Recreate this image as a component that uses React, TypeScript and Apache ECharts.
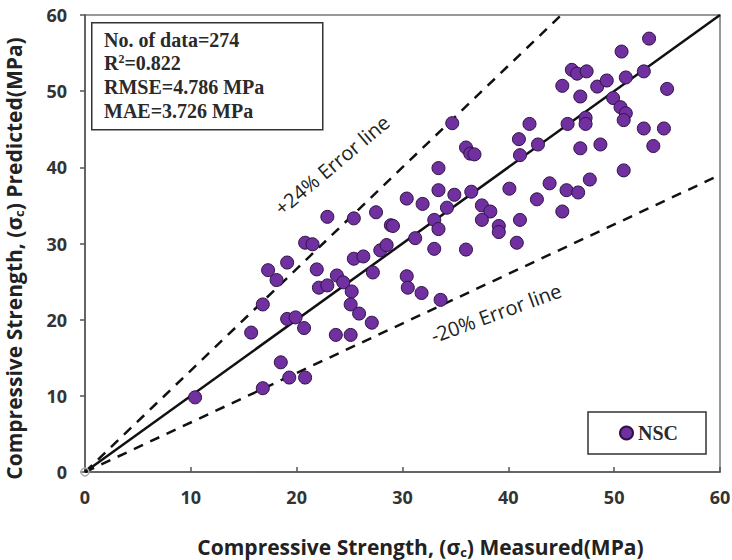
import React, { useEffect, useRef } from 'react';
import * as echarts from 'echarts';

const measured = [
  10.4, 16.8, 19.3, 20.8, 18.5, 15.7, 20.7, 19.1, 19.9, 16.8,
  18.1, 17.3, 19.1, 20.8, 21.5, 21.9, 22.1, 22.9, 23.8, 24.4,
  25.2, 25.1, 25.9, 23.7, 25.1, 27.1, 27.2, 25.4, 26.3, 27.9,
  28.5, 22.9, 25.4, 27.5, 28.9, 29.1, 30.4, 31.9, 34.2, 33.0,
  33.4, 31.2, 33.0, 36.0, 30.4, 30.5, 31.8, 33.6, 33.4, 33.4,
  34.9, 36.5, 34.7, 36.0, 36.4, 36.8, 37.5, 38.3, 37.5, 39.1,
  39.1, 41.1, 40.8, 40.1, 42.7, 41.0, 41.1, 42.8, 42.0, 43.9,
  45.1, 45.5, 46.6, 47.7, 45.6, 47.3, 47.3, 46.8, 48.7, 45.1,
  46.0, 46.5, 47.4, 46.8, 48.4, 49.3, 49.9, 50.6, 51.1, 50.9,
  50.9, 50.7, 51.1, 52.8, 53.3, 55.0, 52.8, 54.7, 53.7,
];
const predicted = [
  9.8, 11.0, 12.4, 12.4, 14.4, 18.3, 18.9, 20.1, 20.3, 22.0,
  25.2, 26.5, 27.5, 30.1, 29.9, 26.6, 24.2, 24.5, 25.8, 24.9,
  23.7, 22.0, 20.8, 18.0, 18.0, 19.6, 26.2, 28.0, 28.3, 29.1,
  29.8, 33.5, 33.3, 34.1, 32.4, 32.3, 35.9, 35.2, 34.7, 33.1,
  31.9, 30.7, 29.3, 29.2, 25.7, 24.2, 23.5, 22.6, 39.9, 37.0,
  36.4, 36.8, 45.8, 42.6, 41.8, 41.7, 35.0, 34.2, 33.1, 32.3,
  31.5, 33.1, 30.1, 37.2, 35.8, 43.7, 41.6, 43.0, 45.7, 37.9,
  34.2, 37.0, 36.7, 38.4, 45.7, 46.5, 45.7, 42.5, 43.0, 50.7,
  52.8, 52.3, 52.6, 49.3, 50.6, 51.4, 49.1, 47.9, 47.1, 46.2,
  39.6, 55.2, 51.8, 52.6, 56.9, 50.3, 45.1, 45.1, 42.8,
];
const perfectLine = [[0, 0], [60, 60]];
const upperErrorLine = [[0, 0], [45, 60]];
const lowerErrorLine = [[0, 0], [60, 39]];
const originPoint = [[0, 0]];
const statsLines = ['No. of data=274', 'R2=0.822', 'RMSE=4.786 MPa', 'MAE=3.726 MPa'];

const SANS = '"Open Sans", sans-serif';
const SERIF = '"Liberation Serif", "Times New Roman", serif';

export default function App() {
  const ref = useRef<HTMLDivElement>(null);
  useEffect(() => {
    const chart = echarts.init(ref.current!, null, { renderer: 'svg' });
    const scatterData = measured.map((m, i) => [m, predicted[i]]);
    const lineY = [40, 63.5, 87, 110.5];
    const statTexts = statsLines.map((t, i) => {
      if (t.startsWith('R2')) {
        return {
          type: 'text',
          left: 104,
          top: lineY[i] - 11,
          style: {
            text: '{b|R}{s|2}{b|' + t.slice(2) + '}',
            rich: {
              b: { fontFamily: SERIF, fontWeight: 'bold', fontSize: 20, fill: '#2a2a2a', lineHeight: 22 },
              s: { fontFamily: SERIF, fontWeight: 'bold', fontSize: 12, fill: '#2a2a2a', lineHeight: 22, padding: [0, 0, 9, 0] },
            },
          },
        };
      }
      return {
        type: 'text',
        left: 104,
        top: lineY[i] - 11,
        style: { text: t, fontFamily: SERIF, fontWeight: 'bold', fontSize: 20, fill: '#2a2a2a', lineHeight: 22 },
      };
    });
    const nameRich = {
      a: { fontFamily: SANS, fontWeight: 'bold', fontSize: 21, color: '#222', lineHeight: 22 },
      s: { fontFamily: SANS, fontWeight: 'bold', fontSize: 13, color: '#222', lineHeight: 22, padding: [9, 0, 0, 0] },
    };
    const option: any = {
      animation: false,
      backgroundColor: '#fff',
      grid: {
        left: 85, right: 12, top: 15, bottom: 88, show: true, borderColor: '#777', borderWidth: 1.5,
        outerBoundsMode: 'none', containLabel: false,
      },
      xAxis: {
        type: 'value', min: 0, max: 60, interval: 10,
        axisLine: { lineStyle: { color: '#555', width: 1.5 } },
        axisTick: { inside: true, length: 5, lineStyle: { color: '#555', width: 1.5 } },
        splitLine: { show: false },
        axisLabel: { margin: 16, fontFamily: SANS, fontWeight: 'bold', fontSize: 18, color: '#333' },
        name: '{a|Compressive Strength, (σ}{s|c}{a|) Measured(MPa)}',
        nameLocation: 'middle', nameGap: 64,
        nameTextStyle: { padding: [0, 0, 0, 36], rich: nameRich },
      },
      yAxis: {
        type: 'value', min: 0, max: 60, interval: 10,
        axisLine: { lineStyle: { color: '#555', width: 1.5 } },
        axisTick: { inside: false, length: 5, lineStyle: { color: '#555', width: 1.5 } },
        splitLine: { show: false },
        axisLabel: { margin: 18, fontFamily: SANS, fontWeight: 'bold', fontSize: 18, color: '#333' },
        name: '{a|Compressive Strength, (σ}{s|c}{a|) Predicted(MPa)}',
        nameLocation: 'middle', nameGap: 60,
        nameTextStyle: { padding: [0, 30, 0, 0], rich: nameRich },
      },
      legend: {
        data: ['NSC'],
        left: 588, top: 412,
        padding: [11, 28, 11, 31],
        borderColor: '#333', borderWidth: 1.5,
        backgroundColor: '#fff',
        itemWidth: 13, itemHeight: 13,
        icon: 'circle',
        textStyle: { fontFamily: SERIF, fontWeight: 'bold', fontSize: 20, color: '#2a2a2a', lineHeight: 20 },
      },
      series: [
        { type: 'line', data: upperErrorLine, symbol: 'none', lineStyle: { color: '#111', width: 2.5, type: [10, 8] }, z: 2 },
        { type: 'line', data: lowerErrorLine, symbol: 'none', lineStyle: { color: '#111', width: 2.5, type: [10, 8] }, z: 2 },
        { type: 'line', data: perfectLine, symbol: 'none', lineStyle: { color: '#111', width: 2.5 }, z: 2 },
        {
          type: 'scatter', data: originPoint, symbolSize: 8, z: 3,
          itemStyle: { color: 'rgba(255,255,255,0)', borderColor: '#aaa', borderWidth: 1.5, opacity: 1 },
        },
        {
          name: 'NSC', type: 'scatter', data: scatterData, symbolSize: 13, z: 4,
          itemStyle: { color: '#7030A0', borderColor: '#2E1245', borderWidth: 1, opacity: 1 },
        },
      ],
      graphic: [
        {
          type: 'rect', left: 91, top: 22, z: 10,
          shape: { width: 231, height: 107 },
          style: { fill: '#fff', stroke: '#333', lineWidth: 1.5 },
        },
        ...statTexts.map((t: any) => ({ ...t, z: 11 })),
        {
          type: 'text', x: 332, y: 165, rotation: (40 * Math.PI) / 180, z: 11,
          style: { text: '+24% Error line', fontFamily: SANS, fontSize: 20, fill: '#222', align: 'center', verticalAlign: 'middle' },
        },
        {
          type: 'text', x: 496, y: 313, rotation: (20 * Math.PI) / 180, z: 11,
          style: { text: '-20% Error line', fontFamily: SANS, fontSize: 20, fill: '#222', align: 'center', verticalAlign: 'middle' },
        },
      ],
    };
    chart.setOption(option);
    return () => chart.dispose();
  }, []);
  return <div ref={ref} style={{ position: 'fixed', left: 0, top: 0, width: 732, height: 560 }} />;
}
